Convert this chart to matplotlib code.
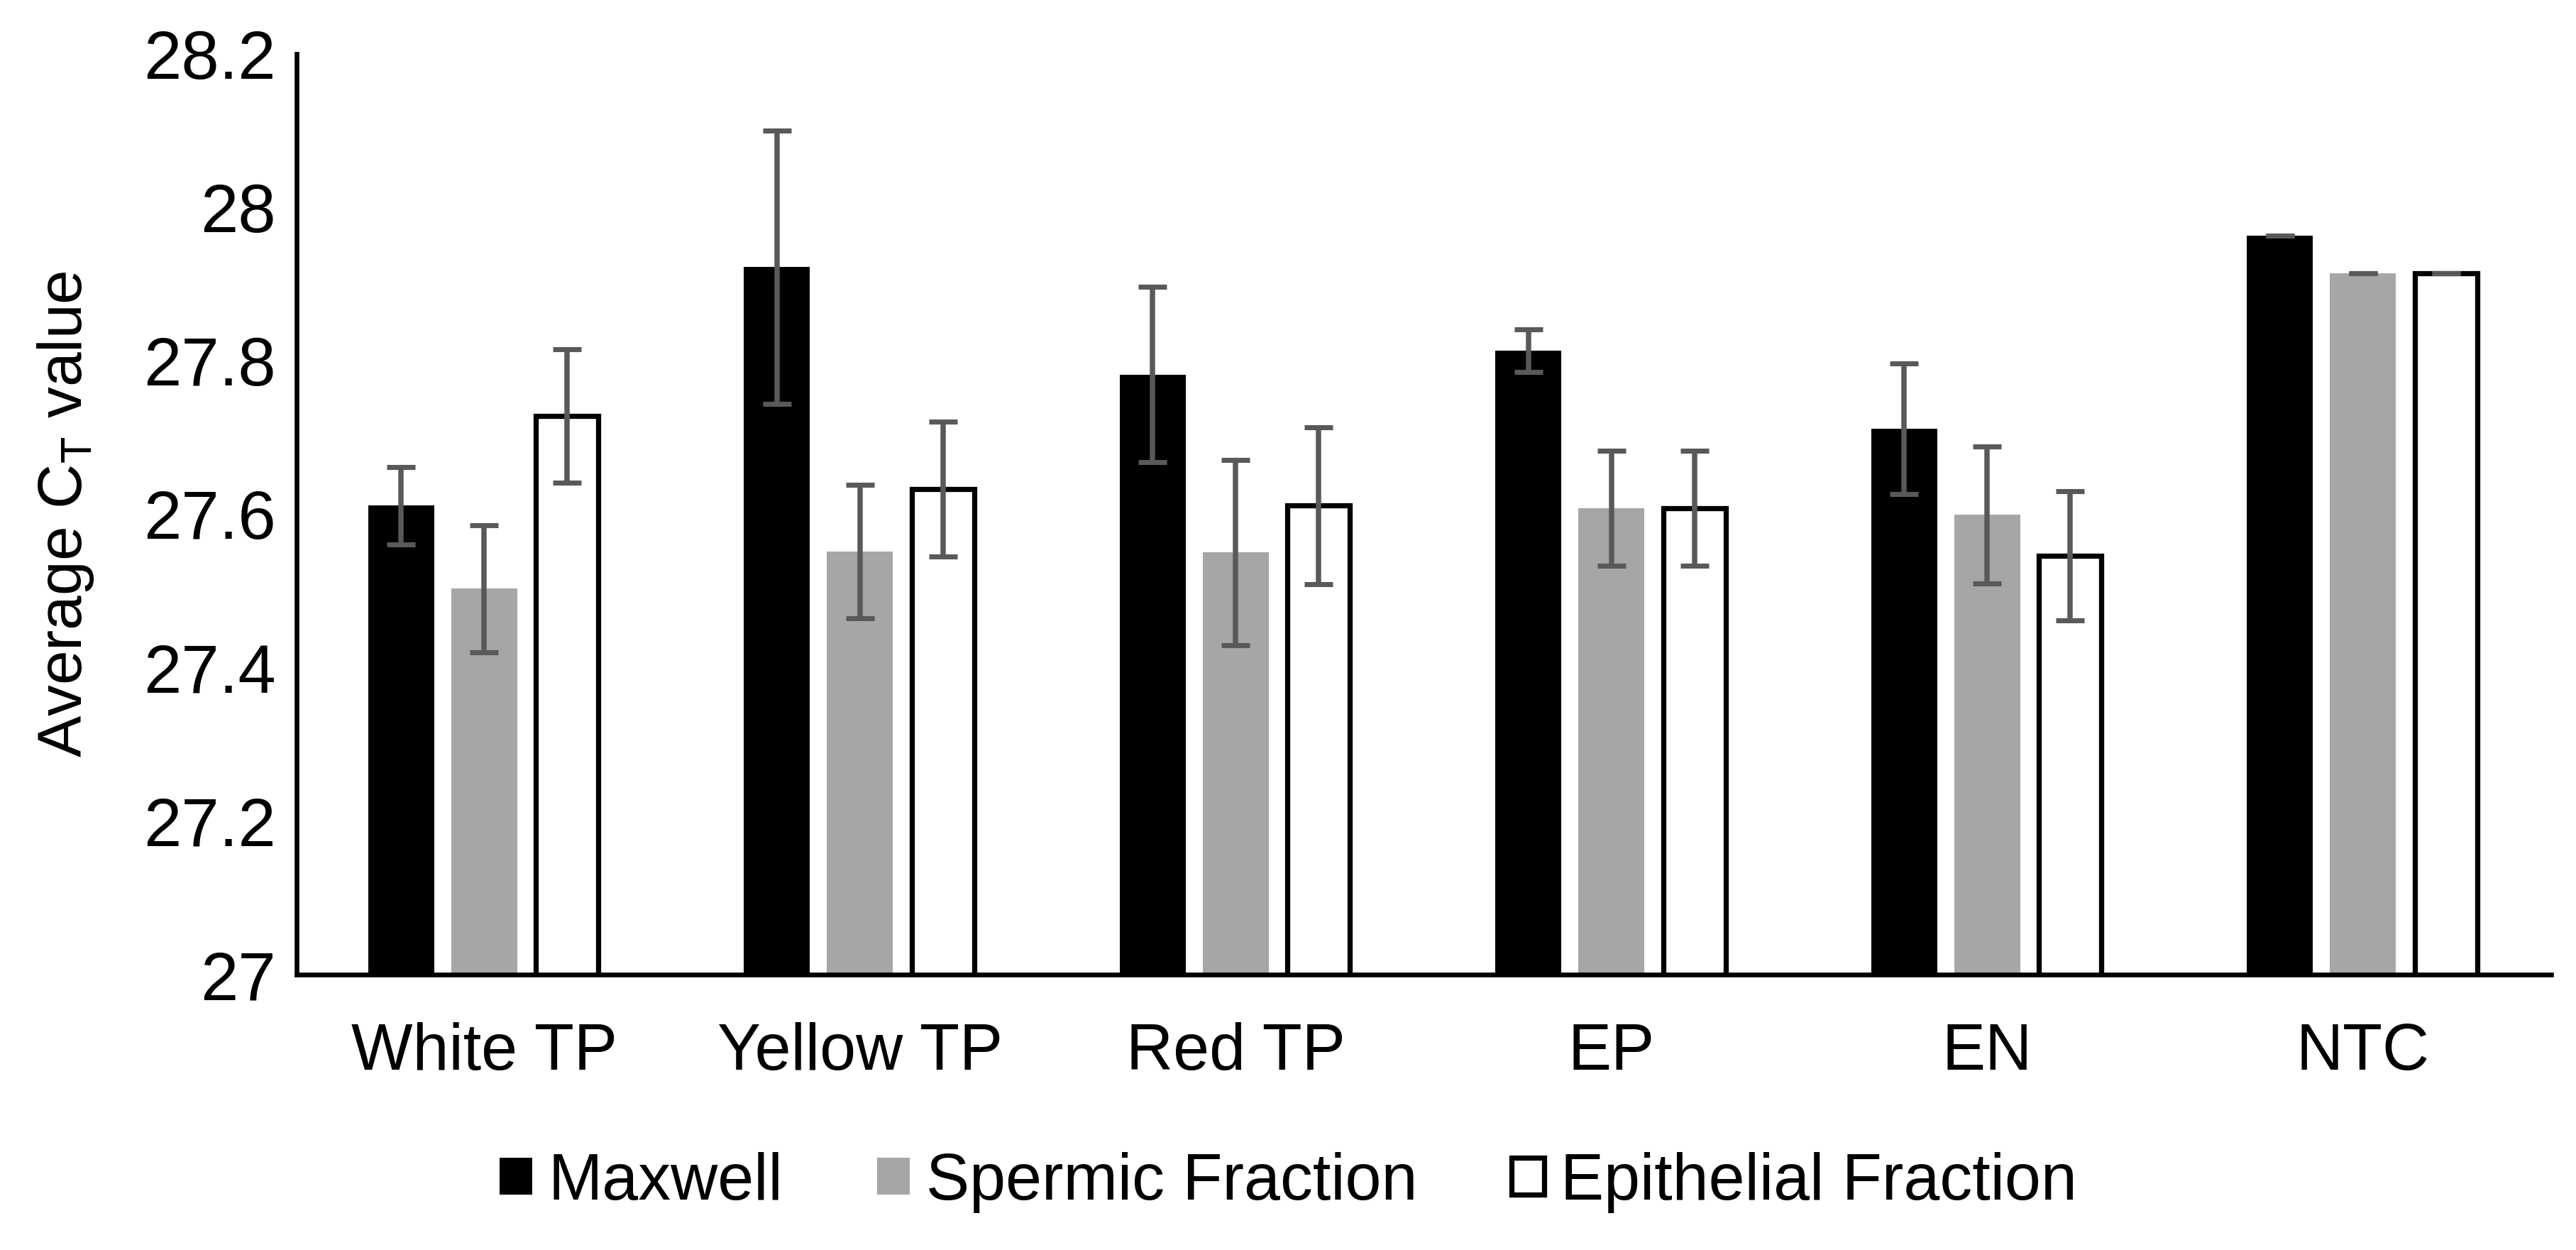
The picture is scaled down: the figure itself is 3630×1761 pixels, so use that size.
import matplotlib.pyplot as plt
import numpy as np

plt.rcParams['font.family'] = ['Liberation Sans', 'DejaVu Sans']

# data
categories = ['White TP', 'Yellow TP', 'Red TP', 'EP', 'EN', 'NTC']
maxwell = [27.611, 27.922, 27.782, 27.813, 27.711, 27.963]
maxwell_err = [0.050, 0.178, 0.114, 0.028, 0.085, 0.0]
spermic = [27.503, 27.551, 27.550, 27.608, 27.599, 27.914]
spermic_err = [0.083, 0.087, 0.121, 0.075, 0.089, 0.0]
epithelial = [27.728, 27.633, 27.611, 27.608, 27.546, 27.914]
epithelial_err = [0.087, 0.088, 0.102, 0.075, 0.084, 0.0]
y_ticks = [27, 27.2, 27.4, 27.6, 27.8, 28, 28.2]
y_tick_labels = ['27', '27.2', '27.4', '27.6', '27.8', '28', '28.2']

x = np.arange(len(categories))
width = 0.176
step = 0.221
err_kw = dict(ecolor='#595959', elinewidth=1.8, capsize=4.7, capthick=1.7)

fig = plt.figure(figsize=(12.103, 5.87), dpi=300)
ax = fig.add_axes([0.115, 0.2203, 0.875, 0.7367])

ax.bar(x - step, maxwell, width, yerr=maxwell_err, color='black',
       label='Maxwell', error_kw=err_kw)
ax.bar(x, spermic, width, yerr=spermic_err, color='#a6a6a6',
       label='Spermic Fraction', error_kw=err_kw)
ax.bar(x + step, epithelial, width - 0.01, yerr=epithelial_err, color='white',
       edgecolor='black', linewidth=1.75, label='Epithelial Fraction', error_kw=err_kw)

ax.set_ylim(27, 28.2)
ax.set_xlim(-0.5, len(categories) - 0.5)
ax.set_yticks(y_ticks)
ax.set_yticklabels(y_tick_labels)
ax.set_xticks(x)
ax.set_xticklabels(categories)
ax.tick_params(axis='y', length=0, pad=7, labelsize=23)
ax.tick_params(axis='x', length=0, pad=16, labelsize=22)

ax.set_ylabel('Average C$_\\mathregular{T}$ value', fontsize=21, labelpad=16)

for s in ['top', 'right']:
    ax.spines[s].set_visible(False)
ax.spines['left'].set_linewidth(1.6)
ax.spines['bottom'].set_linewidth(1.6)

ax.legend(loc='center', bbox_to_anchor=(0.5, 0.054), bbox_transform=fig.transFigure,
          ncol=3, frameon=False, fontsize=22, handlelength=0.5, handleheight=0.5,
          handletextpad=0.25, columnspacing=1.45)

plt.savefig('out.png', dpi=300)
